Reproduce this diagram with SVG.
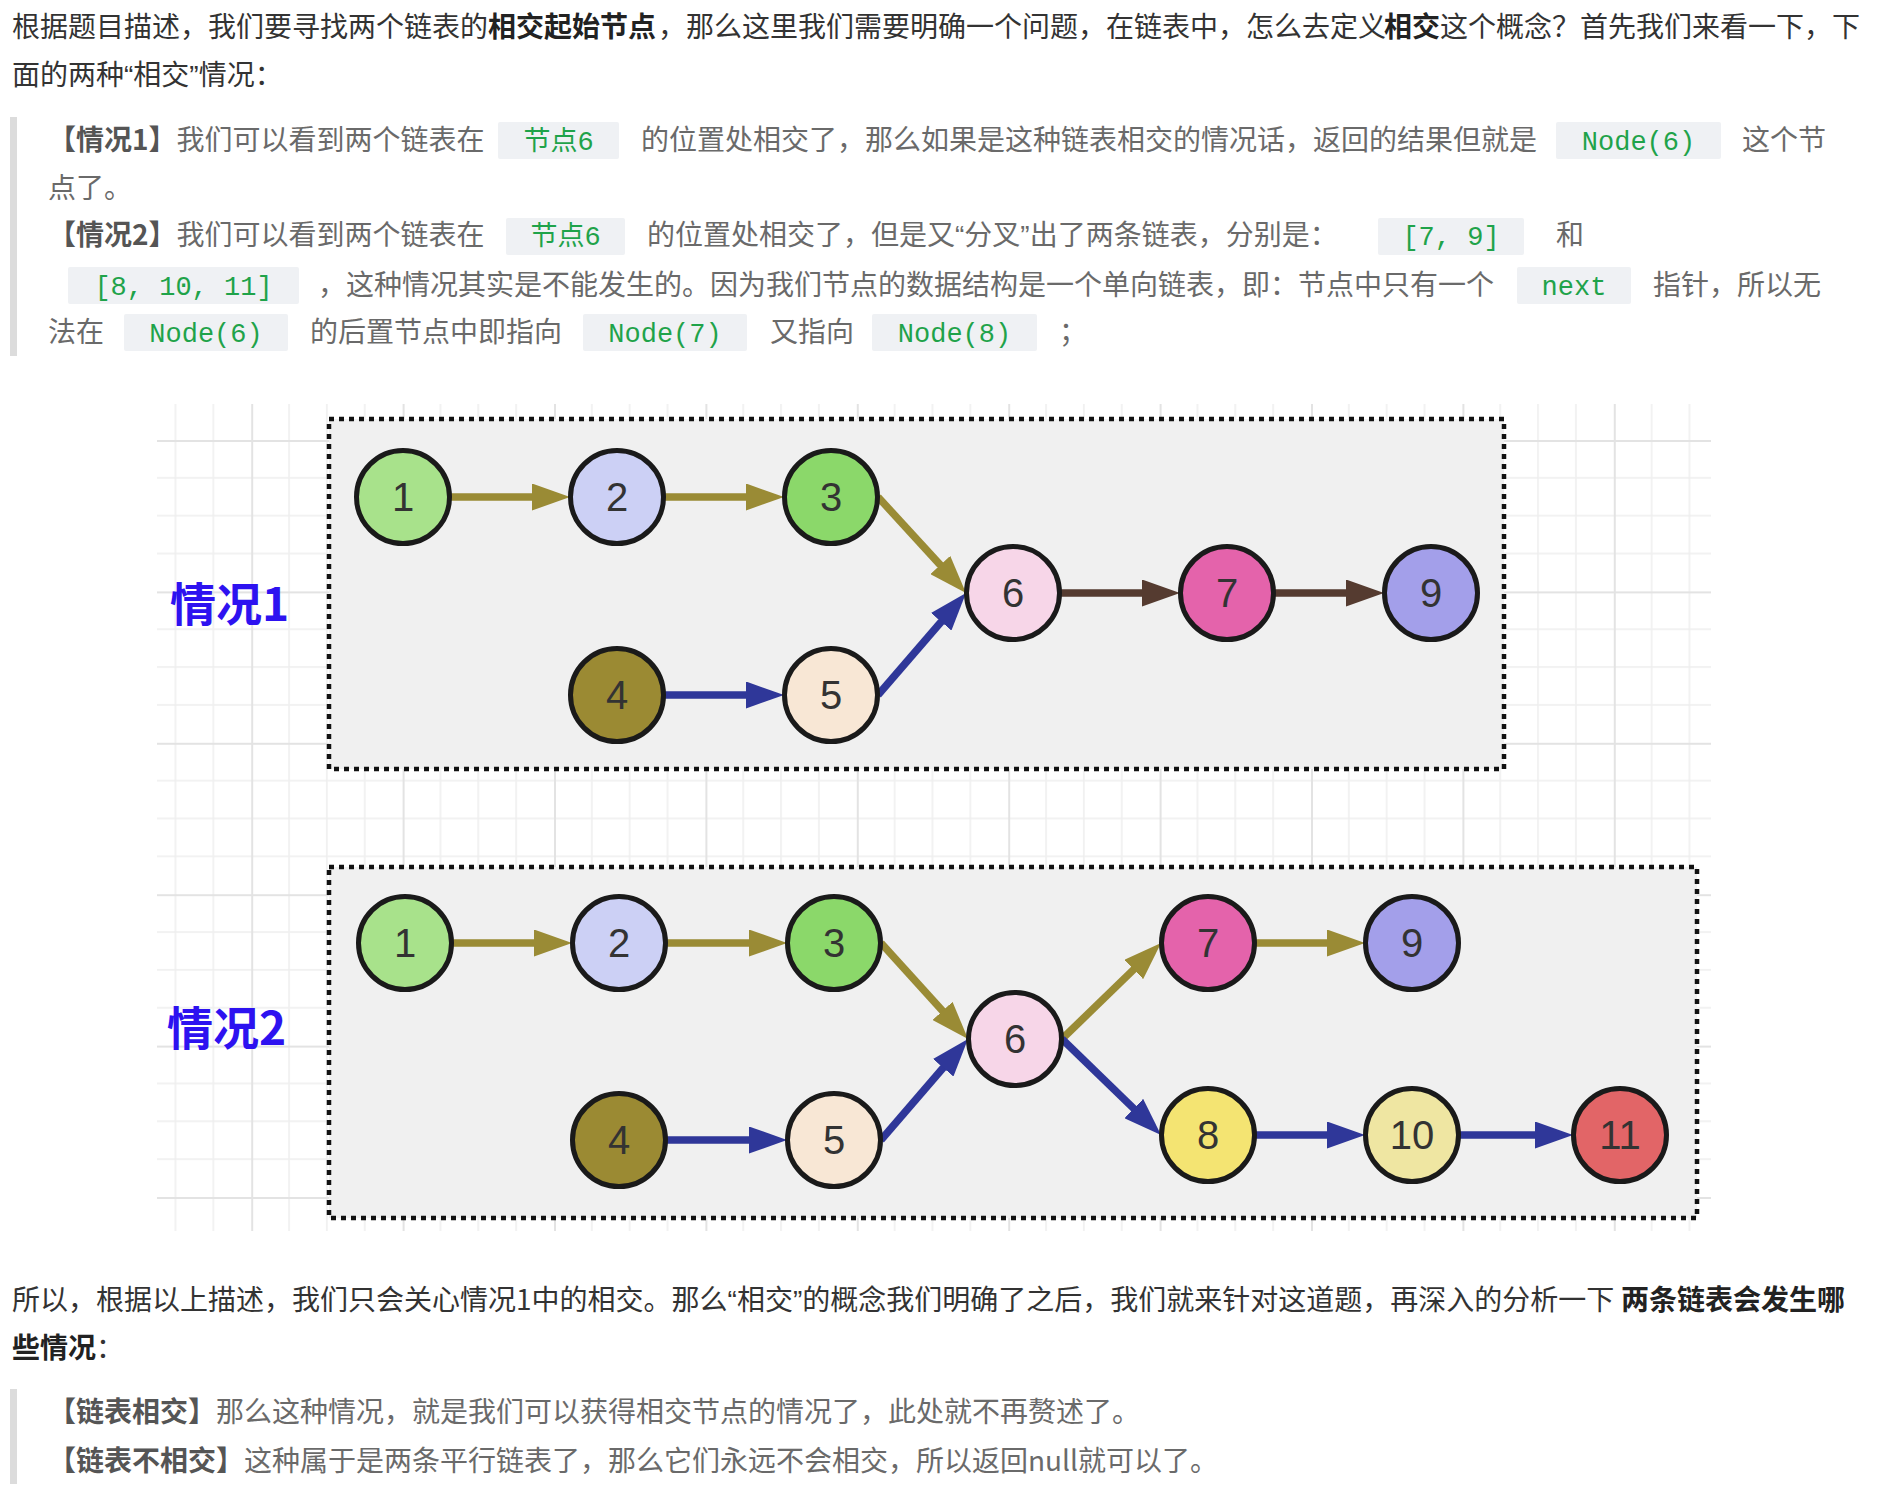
<svg xmlns="http://www.w3.org/2000/svg" width="1892" height="1496" viewBox="0 0 1892 1496">
<defs>
<style>
.p{font-family:"Noto Sans CJK SC","Noto Sans",sans-serif;font-size:28px;fill:#333}
.b{font-weight:bold;fill:#222}
.q{fill:#6a6a6a}
.qb{font-weight:bold;fill:#555}
.qm{font-family:"Liberation Sans",Arial,sans-serif}
.cbg{fill:#eff1f4}
.code{font-family:"Liberation Mono","DejaVu Sans Mono","Noto Sans CJK SC",monospace;font-size:27px;fill:#1fa34a;text-anchor:middle}
.bar{fill:#dcdcdc}
.frame{fill:#f0f0f0;stroke:#111;stroke-width:4.5;stroke-dasharray:5 5}
.node circle{stroke:#1a1a1a;stroke-width:5}
.node text{font-family:"Liberation Sans",Arial,sans-serif;font-size:40px;fill:#333;text-anchor:middle}
.lbl{font-family:"Noto Sans CJK SC","Noto Sans",sans-serif;font-size:46px;font-weight:bold;fill:#2d12f0}
.e{fill:none;stroke-width:7.5}
.olive{stroke:#9a8b35}
.blue{stroke:#2f3799}
.brown{stroke:#553b30}
</style>
<pattern id="grid" patternUnits="userSpaceOnUse" x="99.8" y="440" width="151.4" height="151.4">
<rect x="37.1" y="0" width="1.5" height="151.4" fill="#eeeeee"/>
<rect x="74.9" y="0" width="1.5" height="151.4" fill="#eeeeee"/>
<rect x="112.8" y="0" width="1.5" height="151.4" fill="#eeeeee"/>
<rect x="0" y="37.1" width="151.4" height="1.5" fill="#eeeeee"/>
<rect x="0" y="74.9" width="151.4" height="1.5" fill="#eeeeee"/>
<rect x="0" y="112.8" width="151.4" height="1.5" fill="#eeeeee"/>
<rect x="0" y="0" width="2" height="151.4" fill="#e3e3e3"/>
<rect x="0" y="0" width="151.4" height="2" fill="#e3e3e3"/>
</pattern>
<marker id="ah-olive" markerUnits="userSpaceOnUse" viewBox="0 0 38 27" markerWidth="38" markerHeight="27" refX="8" refY="13.5" orient="auto"><path d="M0,0 L38,13.5 L0,27 Z" fill="#9a8b35"/></marker>
<marker id="ah-blue" markerUnits="userSpaceOnUse" viewBox="0 0 38 27" markerWidth="38" markerHeight="27" refX="8" refY="13.5" orient="auto"><path d="M0,0 L38,13.5 L0,27 Z" fill="#2f3799"/></marker>
<marker id="ah-brown" markerUnits="userSpaceOnUse" viewBox="0 0 38 27" markerWidth="38" markerHeight="27" refX="8" refY="13.5" orient="auto"><path d="M0,0 L38,13.5 L0,27 Z" fill="#553b30"/></marker>
</defs>
<rect width="1892" height="1496" fill="#ffffff"/>

<!-- intro paragraph -->
<g id="intro" class="p">
<text y="37"><tspan x="12">根据题目描述，我们要寻找两个链表的</tspan><tspan x="488" class="b">相交起始节点</tspan><tspan x="658">，那么这里我们需要明确一个问题，在链表中，怎么去定义</tspan><tspan x="1384" class="b">相交</tspan><tspan x="1440">这个概念？首先我们来看一下，下</tspan></text>
<text x="12" y="85">面的两种<tspan class="qm">“</tspan>相交<tspan class="qm">”</tspan>情况：</text>
</g>

<!-- quote block 1 -->
<g id="quote1" class="p">
<rect class="bar" x="10" y="117" width="7" height="239"/>
<rect class="cbg" x="498" y="122" width="121" height="37" rx="2"/>
<rect class="cbg" x="1556" y="122" width="165" height="37" rx="2"/>
<rect class="cbg" x="506" y="218" width="119" height="37" rx="2"/>
<rect class="cbg" x="1378" y="218" width="146" height="37" rx="2"/>
<rect class="cbg" x="68" y="267" width="231" height="37" rx="2"/>
<rect class="cbg" x="1517" y="267" width="114" height="37" rx="2"/>
<rect class="cbg" x="124" y="314" width="164" height="37" rx="2"/>
<rect class="cbg" x="583" y="314" width="164" height="37" rx="2"/>
<rect class="cbg" x="872" y="314" width="165" height="37" rx="2"/>
<text y="150" class="q"><tspan x="48" class="qb">【情况1】</tspan><tspan>我们可以看到两个链表在</tspan><tspan x="641">的位置处相交了，那么如果是这种链表相交的情况话，返回的结果但就是</tspan><tspan x="1742">这个节</tspan></text>
<text x="48" y="198" class="q">点了。</text>
<text y="245" class="q"><tspan x="48" class="qb">【情况2】</tspan><tspan>我们可以看到两个链表在</tspan><tspan x="647">的位置处相交了，但是又</tspan><tspan class="qm">“</tspan><tspan>分叉</tspan><tspan class="qm">”</tspan><tspan>出了两条链表，分别是：</tspan><tspan x="1556">和</tspan></text>
<text y="295" class="q"><tspan x="318">，这种情况其实是不能发生的。因为我们节点的数据结构是一个单向链表，即：节点中只有一个</tspan><tspan x="1653">指针，所以无</tspan></text>
<text y="342" class="q"><tspan x="48">法在</tspan><tspan x="310">的后置节点中即指向</tspan><tspan x="770">又指向</tspan><tspan x="1059">；</tspan></text>
<text class="code" x="558.5" y="150">节点6</text>
<text class="code" x="1638.5" y="150">Node(6)</text>
<text class="code" x="565.5" y="245">节点6</text>
<text class="code" x="1451" y="245">[7, 9]</text>
<text class="code" x="183.5" y="295">[8, 10, 11]</text>
<text class="code" x="1574" y="295">next</text>
<text class="code" x="206" y="342">Node(6)</text>
<text class="code" x="665" y="342">Node(7)</text>
<text class="code" x="954.5" y="342">Node(8)</text>
</g>

<!-- diagram background grid -->
<rect x="157" y="404" width="1554" height="827" fill="url(#grid)"/>

<!-- frames -->
<rect id="frame1" class="frame" x="329" y="419" width="1175" height="350"/>
<rect id="frame2" class="frame" x="329" y="867" width="1368" height="351"/>

<text id="label1" class="lbl" x="170" y="621">情况1</text>
<text id="label2" class="lbl" x="167" y="1045">情况2</text>

<!-- connectors -->
<g id="connectors">
<line class="e olive" x1="450" y1="497" x2="540" y2="497" marker-end="url(#ah-olive)"/>
<line class="e olive" x1="664" y1="497" x2="754" y2="497" marker-end="url(#ah-olive)"/>
<line class="e olive" x1="878" y1="497" x2="945.7" y2="570.9" marker-end="url(#ah-olive)"/>
<line class="e blue" x1="664" y1="695" x2="754" y2="695" marker-end="url(#ah-blue)"/>
<line class="e blue" x1="878" y1="695" x2="946.4" y2="615.7" marker-end="url(#ah-blue)"/>
<line class="e brown" x1="1060" y1="593" x2="1150" y2="593" marker-end="url(#ah-brown)"/>
<line class="e brown" x1="1274" y1="593" x2="1354" y2="593" marker-end="url(#ah-brown)"/>

<line class="e olive" x1="452" y1="943" x2="542" y2="943" marker-end="url(#ah-olive)"/>
<line class="e olive" x1="666" y1="943" x2="757" y2="943" marker-end="url(#ah-olive)"/>
<line class="e olive" x1="881" y1="943" x2="947.9" y2="1016.8" marker-end="url(#ah-olive)"/>
<line class="e blue" x1="666" y1="1140" x2="757" y2="1140" marker-end="url(#ah-blue)"/>
<line class="e blue" x1="881" y1="1140" x2="948.4" y2="1061.7" marker-end="url(#ah-blue)"/>
<line class="e olive" x1="1062" y1="1039" x2="1139.5" y2="963.9" marker-end="url(#ah-olive)"/>
<line class="e blue" x1="1062" y1="1039" x2="1139.5" y2="1114.1" marker-end="url(#ah-blue)"/>
<line class="e olive" x1="1255" y1="943" x2="1335" y2="943" marker-end="url(#ah-olive)"/>
<line class="e blue" x1="1255" y1="1135" x2="1335" y2="1135" marker-end="url(#ah-blue)"/>
<line class="e blue" x1="1459" y1="1135" x2="1543" y2="1135" marker-end="url(#ah-blue)"/>
</g>

<!-- case 1 nodes -->
<g id="c1-n1" class="node"><circle cx="403" cy="497" r="46.5" fill="#a8e28b"/><text x="403" y="511">1</text></g>
<g id="c1-n2" class="node"><circle cx="617" cy="497" r="46.5" fill="#ccd0f5"/><text x="617" y="511">2</text></g>
<g id="c1-n3" class="node"><circle cx="831" cy="497" r="46.5" fill="#8bd86a"/><text x="831" y="511">3</text></g>
<g id="c1-n4" class="node"><circle cx="617" cy="695" r="46.5" fill="#9b8a33"/><text x="617" y="709">4</text></g>
<g id="c1-n5" class="node"><circle cx="831" cy="695" r="46.5" fill="#f8e7d5"/><text x="831" y="709">5</text></g>
<g id="c1-n6" class="node"><circle cx="1013" cy="593" r="46.5" fill="#f7d6e8"/><text x="1013" y="607">6</text></g>
<g id="c1-n7" class="node"><circle cx="1227" cy="593" r="46.5" fill="#e463ab"/><text x="1227" y="607">7</text></g>
<g id="c1-n9" class="node"><circle cx="1431" cy="593" r="46.5" fill="#a39fea"/><text x="1431" y="607">9</text></g>

<!-- case 2 nodes -->
<g id="c2-n1" class="node"><circle cx="405" cy="943" r="46.5" fill="#a8e28b"/><text x="405" y="957">1</text></g>
<g id="c2-n2" class="node"><circle cx="619" cy="943" r="46.5" fill="#ccd0f5"/><text x="619" y="957">2</text></g>
<g id="c2-n3" class="node"><circle cx="834" cy="943" r="46.5" fill="#8bd86a"/><text x="834" y="957">3</text></g>
<g id="c2-n4" class="node"><circle cx="619" cy="1140" r="46.5" fill="#9b8a33"/><text x="619" y="1154">4</text></g>
<g id="c2-n5" class="node"><circle cx="834" cy="1140" r="46.5" fill="#f8e7d5"/><text x="834" y="1154">5</text></g>
<g id="c2-n6" class="node"><circle cx="1015" cy="1039" r="46.5" fill="#f7d6e8"/><text x="1015" y="1053">6</text></g>
<g id="c2-n7" class="node"><circle cx="1208" cy="943" r="46.5" fill="#e463ab"/><text x="1208" y="957">7</text></g>
<g id="c2-n9" class="node"><circle cx="1412" cy="943" r="46.5" fill="#a39fea"/><text x="1412" y="957">9</text></g>
<g id="c2-n8" class="node"><circle cx="1208" cy="1135" r="46.5" fill="#f4e472"/><text x="1208" y="1149">8</text></g>
<g id="c2-n10" class="node"><circle cx="1412" cy="1135" r="46.5" fill="#efe6a2"/><text x="1412" y="1149">10</text></g>
<g id="c2-n11" class="node"><circle cx="1620" cy="1135" r="46.5" fill="#e26567"/><text x="1620" y="1149">11</text></g>

<!-- closing paragraph -->
<g id="outro" class="p">
<text y="1310"><tspan x="12">所以，根据以上描述，我们只会关心情况1中的相交。那么</tspan><tspan class="qm">“</tspan><tspan>相交</tspan><tspan class="qm">”</tspan><tspan>的概念我们明确了之后，我们就来针对这道题，再深入的分析一下</tspan><tspan x="1621" class="b">两条链表会发生哪</tspan></text>
<text y="1358"><tspan x="12" class="b">些情况</tspan><tspan>：</tspan></text>
</g>

<!-- quote block 2 -->
<g id="quote2" class="p">
<rect class="bar" x="10" y="1389" width="7" height="95"/>
<text y="1422" class="q"><tspan x="48" class="qb">【链表相交】</tspan><tspan>那么这种情况，就是我们可以获得相交节点的情况了，此处就不再赘述了。</tspan></text>
<text y="1471" class="q"><tspan x="48" class="qb">【链表不相交】</tspan><tspan>这种属于是两条平行链表了，那么它们永远不会相交，所以返回null就可以了。</tspan></text>
</g>
</svg>
